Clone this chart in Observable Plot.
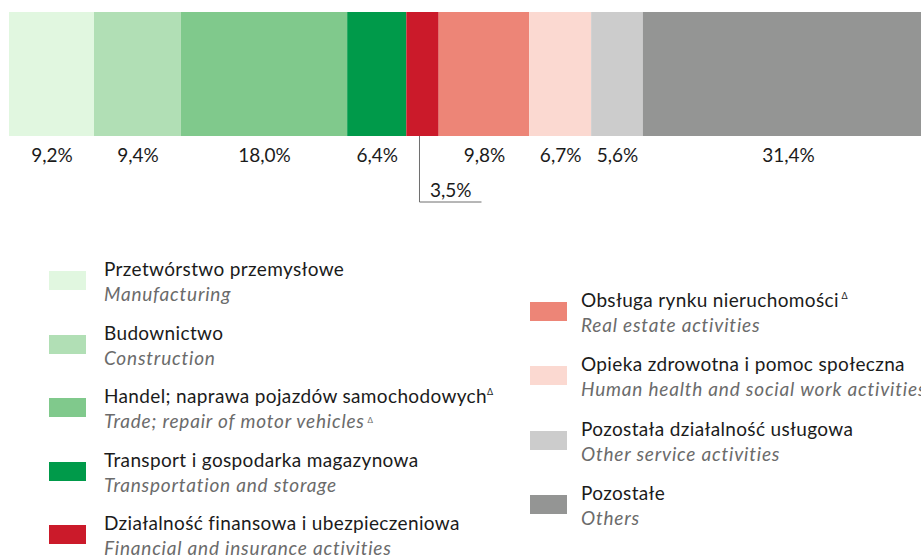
<!DOCTYPE html>
<html>
<head>
<meta charset="utf-8">
<script src="https://cdn.jsdelivr.net/npm/d3@7"></script>
<script src="https://cdn.jsdelivr.net/npm/@observablehq/plot@0.6"></script>
<style>
  html, body { margin: 0; padding: 0; overflow: hidden; background: #fff; width: 921px; height: 558px; }
  #chart svg { display: block; }
  #legend { position: relative; width: 921px; height: 343px; overflow: hidden; font-family: Lato, sans-serif; }
  .item { position: absolute; white-space: nowrap; }
  .sw { position: absolute; width: 37px; height: 19px; left: 0; }
  .txt { position: absolute; top: 0; line-height: 25px; font-size: 19px; letter-spacing: 0.35px; }
  .pl, .en { height: 25px; }
  .pl { color: #1b1b1b; }
  .en { color: #6b6b6b; font-style: italic; letter-spacing: 0.8px; }
  .tri { font-size: 9px; line-height: 0; position: relative; top: -8px; font-style: normal; }
  .tri-en { font-size: 8px; line-height: 0; position: relative; top: -5px; font-style: normal; }
</style>
</head>
<body>
<div id="chart"></div>
<div id="legend"></div>
<script>
const namesPl = [
  "Przetwórstwo przemysłowe",
  "Budownictwo",
  "Handel; naprawa pojazdów samochodowych",
  "Transport i gospodarka magazynowa",
  "Działalność finansowa i ubezpieczeniowa",
  "Obsługa rynku nieruchomości",
  "Opieka zdrowotna i pomoc społeczna",
  "Pozostała działalność usługowa",
  "Pozostałe"
];
const namesEn = [
  "Manufacturing",
  "Construction",
  "Trade; repair of motor vehicles",
  "Transportation and storage",
  "Financial and insurance activities",
  "Real estate activities",
  "Human health and social work activities",
  "Other service activities",
  "Others"
];
const values = [9.2, 9.4, 18.0, 6.4, 3.5, 9.8, 6.7, 5.6, 31.4];
const colors = ["#e1f7e0", "#b1dfb5", "#80c98c", "#009a4a", "#cb1a2a", "#ed8577", "#fbd9d1", "#cccccc", "#949594"];
const deltaPl = [false, false, true, false, false, true, false, false, false];
const deltaEn = [false, false, true, false, false, false, false, false, false];
const leaderIndex = 4; // label drawn below with a leader line

const fmt = v => v.toFixed(1).replace(".", ",") + "%";
const data = namesPl.map((n, i) => ({name: n, value: values[i], label: fmt(values[i]), row: "bar", i}));

const plot = Plot.plot({
  width: 921,
  height: 215,
  margin: 0,
  x: {domain: [0, 100], range: [9, 933], axis: null},
  y: {domain: ["bar"], range: [12, 136], padding: 0, axis: null},
  color: {domain: namesPl, range: colors},
  style: {fontFamily: "Lato, sans-serif", fontSize: "19px", background: "white", overflow: "hidden"},
  marks: [
    Plot.barX(data, {x: "value", y: "row", fill: "name"}),
    Plot.text(data, Plot.stackX({
      x: "value", y: "row",
      text: d => d.i === leaderIndex ? null : d.label,
      dy: 81, fill: "#1b1b1b"
    })),
    Plot.text(data, Plot.stackX({
      x: "value", y: "row",
      text: d => d.i === leaderIndex ? d.label : null,
      dy: 116, dx: 7, textAnchor: "start", fill: "#1b1b1b"
    }))
  ]
});
document.getElementById("chart").appendChild(plot);

// leader line for the small segment, positioned through Plot's scales
const xs = plot.scale("x"), ys = plot.scale("y");
const before = d3.sum(values.slice(0, leaderIndex));
const mid = xs.apply(before + values[leaderIndex] / 2) - 3;
const barBottom = ys.apply("bar") + ys.bandwidth;
d3.select(plot).append("path")
  .attr("d", `M${mid},${barBottom}V${barBottom + 66}h62`)
  .attr("fill", "none")
  .attr("stroke", "#6f6f6f")
  .attr("stroke-width", 1);

// legend (HTML, below the SVG)
const legend = d3.select("#legend");
const cols = [
  {left: 49, textLeft: 55, firstBaseline: 276 - 215, step: 63.5, items: [0, 1, 2, 3, 4]},
  {left: 530, textLeft: 51, firstBaseline: 306.7 - 215, step: 64.4, items: [5, 6, 7, 8]}
];
const baselineInLine = 20;
cols.forEach(col => {
  col.items.forEach((idx, k) => {
    const baseline = col.firstBaseline + k * col.step;
    const item = legend.append("div").attr("class", "item")
      .style("left", col.left + "px")
      .style("top", (baseline - baselineInLine) + "px");
    item.append("div").attr("class", "sw")
      .style("background", colors[idx])
      .style("top", (baselineInLine - 5) + "px");
    const t = item.append("div").attr("class", "txt").style("left", col.textLeft + "px");
    const pl = t.append("div").attr("class", "pl").text(namesPl[idx]);
    if (deltaPl[idx]) pl.append("span").attr("class", "tri").html(idx === 5 ? "&nbsp;Δ" : "Δ");
    const en = t.append("div").attr("class", "en").text(namesEn[idx]);
    if (deltaEn[idx]) en.append("span").attr("class", "tri-en").html("&nbsp;Δ");
  });
});
</script>
</body>
</html>
